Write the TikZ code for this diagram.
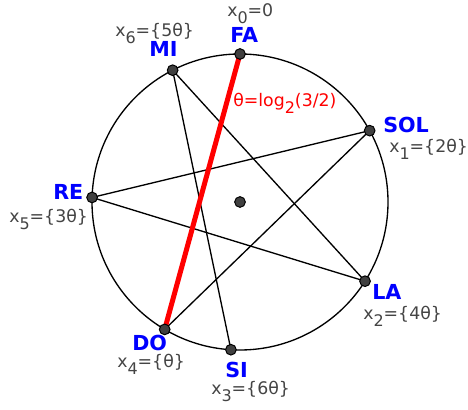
\documentclass[tikz,border=0pt]{standalone}
\usepackage{fontspec}
\setmainfont{DejaVu Sans}
\usetikzlibrary{calc}
\definecolor{lblgray}{RGB}{68,68,68}
\definecolor{dotgray}{RGB}{64,64,64}
\newcommand\lowsub[1]{\raisebox{-5pt}{\fontsize{12}{12}\selectfont #1}}
\begin{document}
\begin{tikzpicture}[x=0.75pt,y=0.75pt,
 note/.style={anchor=base west,inner sep=0pt,text=lblgray,font=\fontsize{13}{14}\selectfont},
 tone/.style={anchor=base west,inner sep=0pt,text=blue,font=\fontsize{15.5}{17}\selectfont\bfseries},
 dot/.style={circle,draw=black,fill=dotgray,line width=0.75pt,inner sep=0pt,minimum size=8pt},
 chord/.style={line width=1pt,black},
 fifth/.style={line width=3.75pt,red}]
\useasboundingbox (0,0) rectangle (468,410);
\coordinate (O) at (240,208);
\draw[line width=1pt] (O) circle (148);
\coordinate (FA) at ($(O)+(90:148)$);
\coordinate (SOL) at ($(O)+(28.83:148)$);
\coordinate (LA) at ($(O)+(-32.35:148)$);
\coordinate (SI) at ($(O)+(-93.52:148)$);
\coordinate (DO) at ($(O)+(-120.59:148)$);
\coordinate (RE) at ($(O)+(178.24:148)$);
\coordinate (MI) at ($(O)+(117.07:148)$);
\draw[chord] (DO) -- (SOL);
\draw[chord] (SOL) -- (RE);
\draw[chord] (RE) -- (LA);
\draw[chord] (LA) -- (MI);
\draw[chord] (MI) -- (SI);
\draw[fifth] (FA) -- (DO);
\foreach \p in {O,FA,SOL,LA,SI,DO,RE,MI} \node[dot] (d\p) at (\p) {};
\node[tone] (nFA) at (230,367) {FA};
\node[tone] (nMI) at (149,353) {MI};
\node[tone] (nSOL) at (383,277) {SOL};
\node[tone] (nRE) at (53,210) {RE};
\node[tone] (nLA) at (372,110) {LA};
\node[tone] (nDO) at (132,59) {DO};
\node[tone] (nSI) at (225,32) {SI};
\node[note] (l0) at (227,393) {x\lowsub{0}=0};
\node[note] (l6) at (115,373) {x\lowsub{6}=\{5θ\}};
\node[note] (l1) at (389,257) {x\lowsub{1}=\{2θ\}};
\node[note] (l5) at (9,187) {x\lowsub{5}=\{3θ\}};
\node[note] (l2) at (363,90) {x\lowsub{2}=\{4θ\}};
\node[note] (l4) at (117,42) {x\lowsub{4}=\{θ\}};
\node[note] (l3) at (211,15) {x\lowsub{3}=\{6θ\}};
\node[note,text=red] (th) at (233,303) {θ=log\lowsub{2}(3/2)};
\end{tikzpicture}
\end{document}
